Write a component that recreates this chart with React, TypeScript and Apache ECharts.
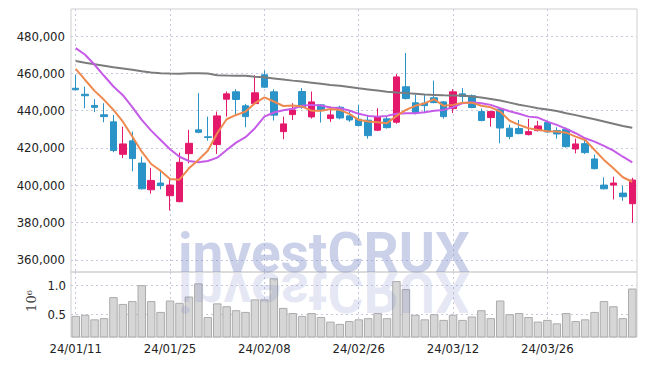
import React, { useEffect, useRef } from 'react';
import * as echarts from 'echarts';

const dates = [
  '24/01/11','24/01/12','24/01/15','24/01/16','24/01/17','24/01/18','24/01/19','24/01/22','24/01/23','24/01/24',
  '24/01/25','24/01/26','24/01/29','24/01/30','24/01/31','24/02/01','24/02/02','24/02/05','24/02/06','24/02/07',
  '24/02/08','24/02/13','24/02/14','24/02/15','24/02/16','24/02/19','24/02/20','24/02/21','24/02/22','24/02/23',
  '24/02/26','24/02/27','24/02/28','24/02/29','24/03/04','24/03/05','24/03/06','24/03/07','24/03/08','24/03/11',
  '24/03/12','24/03/13','24/03/14','24/03/15','24/03/18','24/03/19','24/03/20','24/03/21','24/03/22','24/03/25',
  '24/03/26','24/03/27','24/03/28','24/03/29','24/04/01','24/04/02','24/04/03','24/04/04','24/04/05','24/04/08',
];

const opens = [
  452000, 448800, 442800, 437800, 434000, 416600, 423800, 411900, 397600, 401200,
  394400, 391200, 416950, 429700, 426000, 421800, 446150, 450100, 442600, 443800,
  459200, 450100, 428750, 437900, 450250, 436650, 443100, 435750, 441850, 437200,
  435400, 434900, 429500, 435600, 433800, 452800, 444200, 444000, 446900, 444700,
  441100, 449000, 448000, 439500, 436300, 440800, 430600, 430400, 427150, 429300,
  433600, 429300, 430000, 419450, 422300, 414100, 400100, 400100, 395800, 390100,
];
const closes = [
  451200, 448000, 441800, 436800, 418600, 422150, 414300, 398100, 402600, 399800,
  400100, 412300, 422500, 428400, 425600, 437200, 449000, 446000, 436800, 449550,
  452600, 437600, 432900, 440400, 441850, 444700, 440000, 437700, 436100, 435000,
  432000, 426600, 436800, 430900, 458100, 446500, 438800, 442700, 444300, 436800,
  450100, 447600, 441700, 434700, 439500, 430700, 426100, 427700, 428750, 431800,
  428600, 427500, 420700, 422150, 417500, 408900, 398100, 401200, 393850, 402800,
];
const lows = [
  450800, 441300, 439200, 433800, 417700, 414500, 407500, 397700, 395500, 397800,
  386500, 391000, 411800, 427900, 423900, 416800, 436800, 437700, 431100, 443300,
  452100, 434700, 424700, 435000, 441000, 435750, 433600, 434000, 435400, 434000,
  431500, 425000, 429000, 430400, 433000, 446000, 438000, 438600, 444000, 435700,
  438700, 444000, 441300, 434300, 431400, 422500, 424700, 427300, 426700, 428800,
  428100, 425000, 420200, 417100, 416800, 408500, 397800, 392400, 391700, 379900,
];
const highs = [
  459200, 452900, 446200, 444000, 437700, 431400, 428800, 415300, 409300, 407100,
  403200, 417500, 429700, 449400, 436800, 439500, 450250, 451500, 443650, 459000,
  461500, 451500, 436800, 444000, 452100, 450250, 443500, 442200, 442600, 440000,
  443000, 437700, 441300, 437000, 459600, 470900, 448500, 448800, 456100, 445200,
  451500, 452100, 448700, 441100, 440000, 441600, 432500, 435000, 435600, 434500,
  434700, 431100, 431000, 425000, 424300, 416400, 404250, 404600, 399750, 404000,
];

const ma5 = [
  462450, 456450, 450600, 445800, 440400, 434100, 426100, 418000, 411400, 407800,
  403300, 403000, 409100, 413550, 418550, 427900, 435400, 437700, 439500, 444000,
  447100, 444900, 442500, 442700, 442200, 440000, 440000, 440900, 440400, 438300,
  435100, 434200, 433800, 433300, 437200, 440400, 442600, 444000, 446100, 442600,
  443100, 444300, 444300, 442600, 441800, 439500, 434600, 432400, 430600, 429700,
  429000, 428800, 428200, 426100, 424300, 418900, 413600, 409100, 404300, 401900,
];
const ma20 = [
  473550, 469950, 464600, 458700, 452950, 448300, 441850, 435050, 429300, 424300,
  419300, 415300, 413000, 412300, 413000, 414800, 418900, 422850, 425750, 430600,
  436800, 439000, 440200, 441000, 442600, 443100, 442800, 441700, 441300, 440100,
  438300, 437200, 436800, 437200, 438300, 438650, 438650, 439200, 439900, 440400,
  441850, 444000, 444550, 444000, 443100, 441300, 439700, 438300, 436800, 436300,
  434150, 432350, 430200, 427900, 425200, 423400, 421100, 418550, 415300, 412300,
];
const ma60 = [
  466600, 465700, 464900, 464100, 463300, 462600, 461900, 461100, 460500, 460100,
  459900, 459800, 460000, 460100, 459900, 459000, 458800, 458700, 458700, 458200,
  457900, 457300, 456700, 456100, 455600, 455000, 454400, 453800, 453300, 452700,
  452000, 451400, 450800, 450100, 449700, 449400, 449000, 448600, 448400, 448200,
  448100, 448100, 447600, 447000, 446300, 445400, 444300, 443200, 442300, 441300,
  440600, 439800, 438600, 437600, 436500, 435400, 434200, 433000, 431800, 430800,
];

// volume in millions (10^6)
const volumes = [
  0.47, 0.49, 0.41, 0.43, 0.80, 0.68, 0.73, 1.01, 0.73, 0.54,
  0.74, 0.70, 0.81, 1.04, 0.45, 0.69, 0.64, 0.57, 0.54, 0.76,
  0.76, 1.13, 0.61, 0.52, 0.47, 0.52, 0.45, 0.37, 0.33, 0.38,
  0.41, 0.43, 0.52, 0.43, 1.08, 0.94, 0.49, 0.41, 0.50, 0.40,
  0.49, 0.40, 0.46, 0.57, 0.43, 0.74, 0.50, 0.52, 0.45, 0.37,
  0.40, 0.34, 0.52, 0.38, 0.41, 0.54, 0.73, 0.64, 0.43, 0.95,
];

const priceTicks = [360000, 380000, 400000, 420000, 440000, 460000, 480000];
const volumeTicks = [0.5, 1.0];

export default function App() {
  const ref = useRef<HTMLDivElement>(null);

  useEffect(() => {
    document.body.style.margin = '0';
    const chart = echarts.init(ref.current!, null, { renderer: 'svg' });
    const font = "'DejaVu Sans Condensed', 'DejaVu Sans', sans-serif";
    const gridLine = {
      show: true,
      lineStyle: { color: '#c6c8dc', type: [2, 3], width: 1 },
    };
    const candleData = opens.map((o, i) => [o, closes[i], lows[i], highs[i]]);
    const wmFont = "bold 55px Roboto, 'DejaVu Sans', sans-serif";

    const option: any = {
      animation: false,
      grid: [
        { left: 71, right: 8, top: 9, height: 263, show: true, borderColor: '#cfcfcf', borderWidth: 1 },
        { left: 71, right: 8, top: 272, height: 65, show: true, borderColor: '#cfcfcf', borderWidth: 1 },
      ],
      xAxis: [
        {
          type: 'category', gridIndex: 0, data: dates, boundaryGap: true,
          axisLine: { show: false }, axisTick: { show: false, alignWithLabel: true, interval: 9 },
          axisLabel: { show: false, interval: 9 },
          splitLine: { ...gridLine, interval: 9, alignWithLabel: true },
        },
        {
          type: 'category', gridIndex: 1, data: dates, boundaryGap: true,
          axisLine: { show: false }, axisTick: { show: false, alignWithLabel: true, interval: 9 },
          axisLabel: { interval: 9, color: '#222', fontFamily: font, fontSize: 13, margin: 5 },
          splitLine: { ...gridLine, interval: 9, alignWithLabel: true },
        },
      ],
      yAxis: [
        {
          type: 'value', gridIndex: 0, min: 353500, max: 494500,
          axisLine: { show: false },
          axisTick: { show: false, customValues: priceTicks },
          axisLabel: {
            customValues: priceTicks, color: '#222', fontFamily: font, fontSize: 13, margin: 6,
            formatter: (v: number) => v.toLocaleString('en-US'),
          },
          splitLine: gridLine,
        },
        {
          type: 'value', gridIndex: 1, min: 0.1, max: 1.24,
          axisLine: { show: false },
          axisTick: { show: false, customValues: volumeTicks },
          axisLabel: {
            customValues: volumeTicks, color: '#222', fontFamily: font, fontSize: 13, margin: 5,
            formatter: (v: number) => v.toFixed(1),
          },
          splitLine: gridLine,
        },
      ],
      graphic: [
        {
          type: 'text', x: 178, y: 252.5, z: 50, silent: true,
          style: {
            text: 'investCRUX', font: wmFont, fill: 'rgba(120,135,200,0.38)',
            align: 'left', verticalAlign: 'middle', textAlign: 'left', textVerticalAlign: 'middle',
          },
        },
        {
          type: 'text', x: 178, y: 291.5, scaleY: -1, z: 50, silent: true,
          style: {
            text: 'investCRUX', font: wmFont, fill: 'rgba(120,135,200,0.2)',
            align: 'left', verticalAlign: 'middle', textAlign: 'left', textVerticalAlign: 'middle',
          },
        },
        {
          type: 'text', x: 31, y: 301, rotation: Math.PI / 2, silent: true,
          style: {
            text: '10⁶', font: "13px 'DejaVu Serif', serif", fill: '#444',
            align: 'center', verticalAlign: 'middle', textAlign: 'center', textVerticalAlign: 'middle',
          },
        },
      ],
      series: [
        {
          type: 'candlestick', xAxisIndex: 0, yAxisIndex: 0, data: candleData, barWidth: 7,
          itemStyle: {
            color: '#e5196b', color0: '#2a93c7', borderColor: '#e5196b', borderColor0: '#2a93c7', borderWidth: 1,
          },
        },
        {
          type: 'line', xAxisIndex: 0, yAxisIndex: 0, data: ma60, symbol: 'none', showSymbol: false,
          lineStyle: { color: '#7c7c7c', width: 2 },
        },
        {
          type: 'line', xAxisIndex: 0, yAxisIndex: 0, data: ma20, symbol: 'none', showSymbol: false,
          lineStyle: { color: '#c55be7', width: 2 },
        },
        {
          type: 'line', xAxisIndex: 0, yAxisIndex: 0, data: ma5, symbol: 'none', showSymbol: false,
          lineStyle: { color: '#ee8a4f', width: 2 },
        },
        {
          type: 'bar', xAxisIndex: 1, yAxisIndex: 1, data: volumes, barCategoryGap: '10%',
          itemStyle: { color: '#d6d6d6', borderColor: '#ababab', borderWidth: 1 },
        },
      ],
    };
    chart.setOption(option);
    return () => chart.dispose();
  }, []);

  return <div ref={ref} style={{ width: 645, height: 366 }} />;
}
